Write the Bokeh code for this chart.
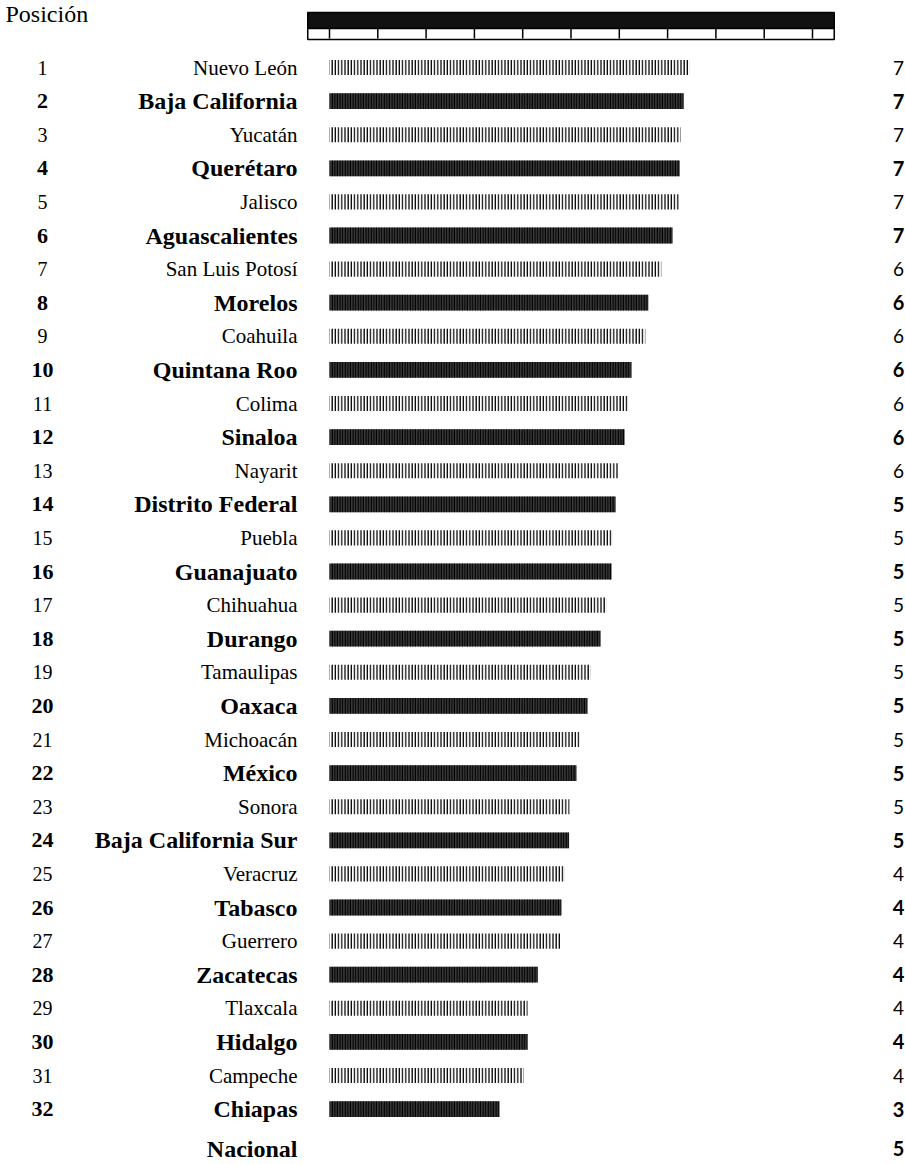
from bokeh.plotting import figure
from bokeh.models import Range1d, ColumnDataSource
from bokeh.core.properties import value
from bokeh.embed import file_html
from bokeh.resources import INLINE

# ---------------- data ----------------
states = ["Nuevo León", "Baja California", "Yucatán", "Querétaro", "Jalisco",
          "Aguascalientes", "San Luis Potosí", "Morelos", "Coahuila", "Quintana Roo",
          "Colima", "Sinaloa", "Nayarit", "Distrito Federal", "Puebla", "Guanajuato",
          "Chihuahua", "Durango", "Tamaulipas", "Oaxaca", "Michoacán", "México",
          "Sonora", "Baja California Sur", "Veracruz", "Tabasco", "Guerrero",
          "Zacatecas", "Tlaxcala", "Hidalgo", "Campeche", "Chiapas"]
ranks = list(range(1, 33))
scores = [7.45, 7.33, 7.27, 7.25, 7.25, 7.10, 6.87, 6.60, 6.54, 6.25,
          6.19, 6.11, 5.98, 5.92, 5.86, 5.84, 5.73, 5.61, 5.40, 5.34,
          5.18, 5.11, 4.97, 4.96, 4.87, 4.80, 4.78, 4.31, 4.10, 4.10,
          4.02, 3.52]
shown = [7, 7, 7, 7, 7, 7, 6, 6, 6, 6, 6, 6, 6, 5, 5, 5, 5, 5, 5, 5,
         5, 5, 5, 5, 4, 4, 4, 4, 4, 4, 4, 3]
national_name = "Nacional"
national_shown = 5
header_title = "Posición"
scale_ticks = list(range(11))

# ---------------- layout helpers ----------------
W, H = 905, 1164
UNIT = 48.3          # px per scale unit
ZERO = 329           # px of scale zero
ROW = 33.6           # px per row
ROW1 = 67            # px of row 1 centre
x0 = -ZERO / UNIT
x1 = (W - ZERO) / UNIT
y_top = 1 - ROW1 / ROW
y_bot = y_top + H / ROW


def px_x(px):
    return x0 + px / UNIT


def px_y(px):
    return y_top + px / ROW


p = figure(width=W, height=H, x_range=Range1d(x0, x1), y_range=Range1d(y_bot, y_top),
           output_backend="svg", toolbar_location=None, min_border=0,
           x_axis_location=None, y_axis_location=None, outline_line_color=None,
           background_fill_color="white", border_fill_color="white")
p.xgrid.visible = False
p.ygrid.visible = False

serif = value("Liberation Serif")
sans = value("Lato")

odd = [i for i in range(32) if ranks[i] % 2 == 1]
even = [i for i in range(32) if ranks[i] % 2 == 0]


def sub(idx):
    return ColumnDataSource(dict(
        rank=[str(ranks[i]) for i in idx],
        y=[ranks[i] for i in idx],
        name=[states[i] for i in idx],
        score=[scores[i] for i in idx],
        shown=[str(shown[i]) for i in idx],
    ))


src_odd = sub(odd)
src_even = sub(even)

# bars
p.hbar(y="y", left=0, right="score", height=0.45, source=src_odd,
       fill_color="white", line_color=None,
       hatch_pattern="|", hatch_color="black", hatch_scale=3.2, hatch_weight=1.3)
p.hbar(y="y", left=0, right="score", height=0.47, source=src_even,
       fill_color="#3a3a3a", line_color=None,
       hatch_pattern="|", hatch_color="black", hatch_scale=2.6, hatch_weight=1.6)

# text columns
rank_x = px_x(42)
name_x = px_x(297)
val_x = px_x(898)
for src, style, nsize, rsize, vsize in ((src_odd, "normal", "21px", "20px", "19px"),
                                        (src_even, "bold", "24px", "22px", "20px")):
    p.text(x=rank_x, y="y", text="rank", source=src, text_align="center",
           text_baseline="middle", text_font=serif, text_font_size=rsize,
           text_font_style=style, text_color="black")
    p.text(x=name_x, y="y", text="name", source=src, text_align="right",
           text_baseline="middle", text_font=serif, text_font_size=nsize,
           text_font_style=style, text_color="black")
    p.text(x=val_x, y="y", text="shown", source=src, text_align="center",
           text_baseline="middle", text_font=sans, text_font_size=vsize,
           text_font_style=style, text_color="black")

# national row
nat_y = px_y(1148)
p.text(x=[name_x], y=[nat_y], text=[national_name], text_align="right",
       text_baseline="middle", text_font=serif, text_font_size="24px",
       text_font_style="bold", text_color="black")
p.text(x=[val_x], y=[nat_y], text=[str(national_shown)], text_align="center",
       text_baseline="middle", text_font=sans, text_font_size="20px",
       text_font_style="bold", text_color="black")

# header title
p.text(x=[px_x(5)], y=[px_y(13)], text=[header_title], text_align="left",
       text_baseline="middle", text_font=serif, text_font_size="24px",
       text_color="black")

# header scale: black band + tick box
band_l = scale_ticks[0] - 0.45
band_r = scale_ticks[-1] + 0.45
p.quad(left=[band_l], right=[band_r], top=[px_y(12)], bottom=[px_y(28)],
       fill_color="#111111", line_color="black", line_width=1.5)
p.quad(left=[band_l], right=[band_r], top=[px_y(28)], bottom=[px_y(39)],
       fill_color="white", line_color="black", line_width=1.5)
p.segment(x0=scale_ticks, x1=scale_ticks, y0=[px_y(28)] * len(scale_ticks),
          y1=[px_y(38)] * len(scale_ticks), line_color="black", line_width=1.5)

open("out.html", "w").write(file_html(p, INLINE))
